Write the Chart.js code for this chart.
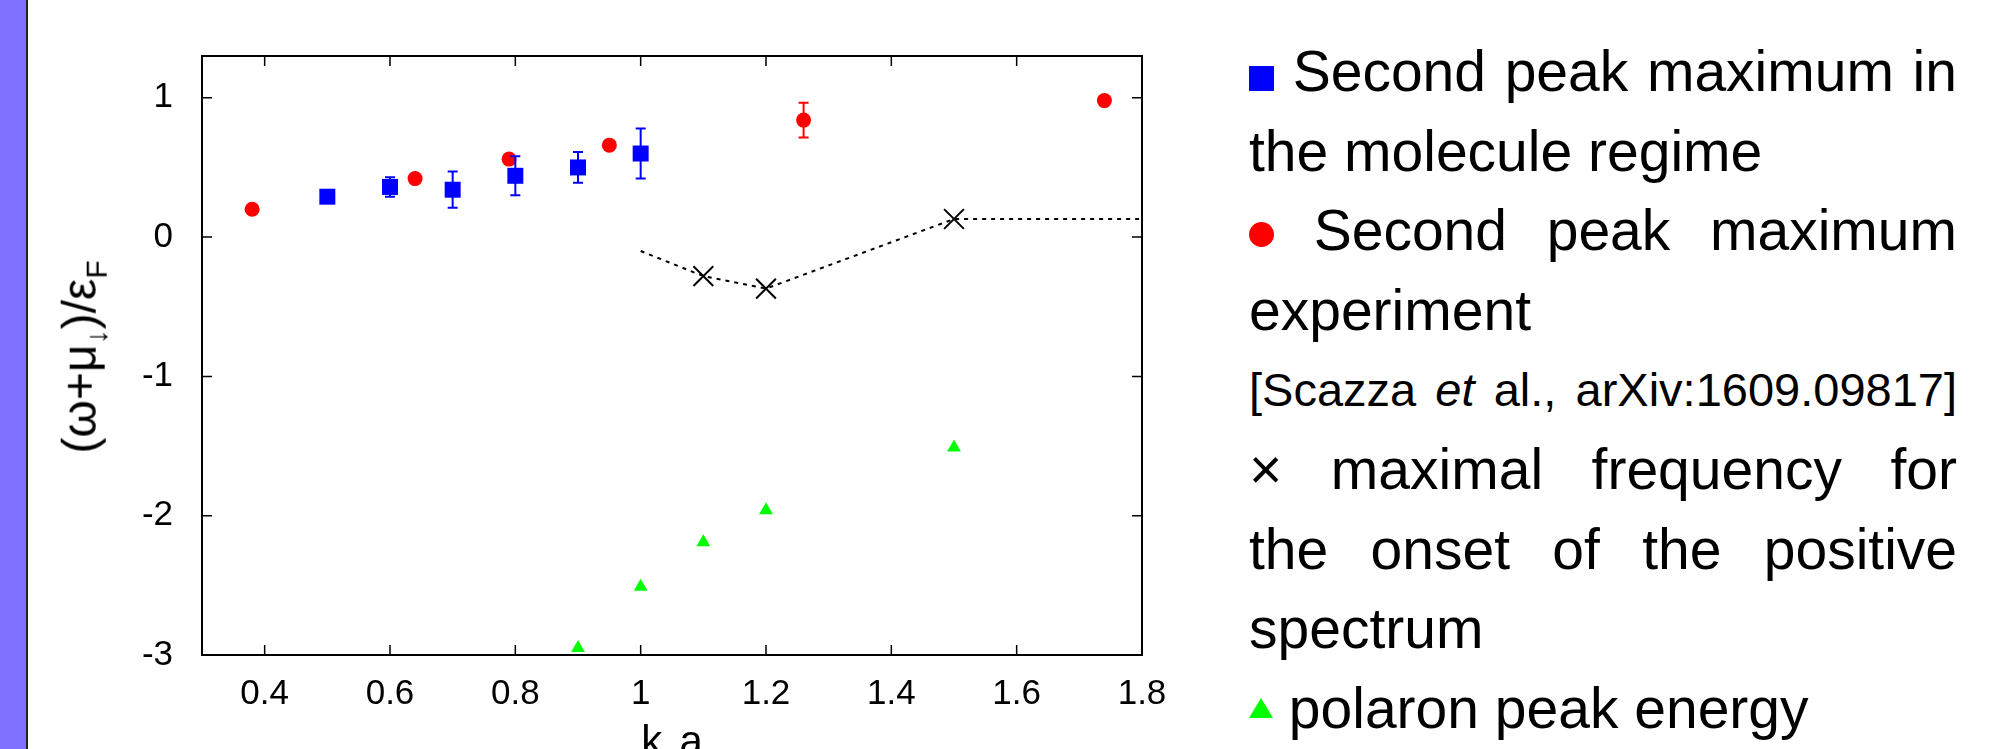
<!DOCTYPE html>
<html lang="en">
<head>
<meta charset="UTF-8">
<title>Second peak maximum vs kFa</title>
<script src="https://cdn.jsdelivr.net/npm/chart.js"></script>
<style>
    html, body {
        margin: 0;
        padding: 0;
        width: 2005px;
        height: 749px;
        overflow: hidden;
        background: #fff;
        font-family: "Liberation Sans", Arial, sans-serif;
    }
    .band {
        position: absolute;
        left: 0; top: 0;
        width: 26px; height: 749px;
        background: #8070ff;
        border-right: 2px solid #222;
    }
    #wrap {
        position: absolute;
        left: 28px; top: 0;
        width: 1172px; height: 800px;
    }
    .ytitle {
        position: absolute;
        left: 88px; top: 357px;
        transform: translate(-50%, -50%) rotate(-90deg);
        font-size: 48px;
        line-height: 48px;
        white-space: nowrap;
    }
    .ytitle sub { font-size: 30px; }
    .xtitle {
        position: absolute;
        left: 672px; top: 720px;
        transform: translateX(-50%);
        font-size: 42px;
        line-height: 42px;
        white-space: nowrap;
    }
    .xtitle span { font-size: 28px; position: relative; top: 14px; }

    /* text block on the right */
    #legend {
        position: absolute;
        left: 1249px; top: 32px;
        width: 708px;
        font-size: 57px;
    }
    .ln {
        height: 79.6px;
        line-height: 79.6px;
        text-align: left;
    }
    .j { text-align: justify; text-align-last: justify; }
    .small { font-size: 47px; }
    .sq { display: inline-block; width: 25px; height: 25px; background: #0000ff; }
    .dot { display: inline-block; width: 25px; height: 25px; border-radius: 50%; background: #ff0000; vertical-align: 3px; }
    .tri {
        display: inline-block; width: 0; height: 0;
        border-left: 12.5px solid transparent;
        border-right: 12.5px solid transparent;
        border-bottom: 20px solid #00ff00;
        vertical-align: 10px;
    }
</style>
</head>
<body>
<div class="band"></div>

<div id="wrap">
    <canvas id="chart" width="1172" height="800"></canvas>
</div>

<div class="ytitle">(ω+μ<sub>↓</sub>)/ε<sub>F</sub></div>
<div class="xtitle">k<span>F</span>a</div>

<div id="legend">
    <div class="ln j"><span class="sq"></span> Second peak maximum in</div>
    <div class="ln">the molecule regime</div>
    <div class="ln j"><span class="dot"></span> Second peak maximum</div>
    <div class="ln">experiment</div>
    <div class="ln j small">[Scazza <i>et</i> al., arXiv:1609.09817]</div>
    <div class="ln j"><span>×</span> maximal frequency for</div>
    <div class="ln j">the onset of the positive</div>
    <div class="ln">spectrum</div>
    <div class="ln"><span class="tri"></span> polaron peak energy</div>
</div>

<script>
    // ejes
    const xTicks = [0.4, 0.6, 0.8, 1.0, 1.2, 1.4, 1.6, 1.8];
    const xTickLabels = ['0.4', '0.6', '0.8', '1', '1.2', '1.4', '1.6', '1.8'];
    const yTicks = [-3, -2, -1, 0, 1];
    const yTickLabels = ['-3', '-2', '-1', '0', '1'];

    // second peak maximum, molecule regime (blue squares)
    const molX = [0.5, 0.6, 0.7, 0.8, 0.9, 1.0];
    const molY = [0.29, 0.36, 0.34, 0.44, 0.50, 0.60];
    const molErr = [0.02, 0.07, 0.13, 0.14, 0.11, 0.18];

    // second peak maximum, experiment (red circles)
    const expX = [0.38, 0.64, 0.79, 0.95, 1.26, 1.74];
    const expY = [0.20, 0.42, 0.56, 0.66, 0.84, 0.98];
    const expErr = [0, 0, 0, 0, 0.125, 0];

    // maximal frequency for the onset of the positive spectrum
    const onsetX = [1.1, 1.2, 1.5];
    const onsetY = [-0.28, -0.37, 0.13];
    const curveX = [1.0, 1.1, 1.2, 1.5, 1.8];
    const curveY = [-0.10, -0.28, -0.37, 0.13, 0.13];

    // polaron peak energy
    const polX = [0.9, 1.0, 1.1, 1.2, 1.5];
    const polY = [-2.95, -2.51, -2.19, -1.96, -1.51];

    const toPoints = (xs, ys) => xs.map((x, i) => ({ x: x, y: ys[i] }));
    const FONT = '"Liberation Sans", Arial, sans-serif';

    // barras de error verticales con tope
    const errorBars = {
        id: 'errorBars',
        afterDatasetsDraw(chart) {
            const ctx = chart.ctx;
            const xs = chart.scales.x, ys = chart.scales.y;
            ctx.save();
            ctx.lineWidth = 2;
            chart.data.datasets.forEach(ds => {
                if (!ds.errors) return;
                ctx.strokeStyle = ds.backgroundColor;
                ds.data.forEach((p, i) => {
                    const e = ds.errors[i];
                    if (!e) return;
                    const px = xs.getPixelForValue(p.x);
                    const top = ys.getPixelForValue(p.y + e);
                    const bot = ys.getPixelForValue(p.y - e);
                    ctx.beginPath();
                    ctx.moveTo(px, top); ctx.lineTo(px, bot);
                    ctx.moveTo(px - 5, top); ctx.lineTo(px + 5, top);
                    ctx.moveTo(px - 5, bot); ctx.lineTo(px + 5, bot);
                    ctx.stroke();
                });
            });
            ctx.restore();
        }
    };

    // marco tipo gnuplot con ticks hacia dentro en los cuatro lados
    const frame = {
        id: 'frame',
        afterDraw(chart) {
            const ctx = chart.ctx;
            const a = chart.chartArea;
            const xs = chart.scales.x, ys = chart.scales.y;
            ctx.save();
            ctx.strokeStyle = '#000';
            ctx.lineWidth = 1.5;
            ctx.beginPath();
            xs.ticks.forEach(t => {
                const px = xs.getPixelForValue(t.value);
                ctx.moveTo(px, a.bottom); ctx.lineTo(px, a.bottom - 10);
                ctx.moveTo(px, a.top); ctx.lineTo(px, a.top + 10);
            });
            ys.ticks.forEach(t => {
                const py = ys.getPixelForValue(t.value);
                ctx.moveTo(a.left, py); ctx.lineTo(a.left + 10, py);
                ctx.moveTo(a.right, py); ctx.lineTo(a.right - 10, py);
            });
            ctx.stroke();
            ctx.lineWidth = 2;
            ctx.strokeRect(a.left, a.top, a.right - a.left, a.bottom - a.top);
            ctx.restore();
        }
    };

    new Chart(document.getElementById('chart').getContext('2d'), {
        type: 'scatter',
        data: {
            datasets: [
                {
                    label: 'Second peak maximum in the molecule regime',
                    data: toPoints(molX, molY),
                    errors: molErr,
                    pointStyle: 'rect',
                    pointRadius: 11.3,
                    backgroundColor: '#0000ff',
                    borderColor: '#0000ff',
                    borderWidth: 0
                },
                {
                    label: 'Second peak maximum experiment',
                    data: toPoints(expX, expY),
                    errors: expErr,
                    pointStyle: 'circle',
                    pointRadius: 7.5,
                    backgroundColor: '#ff0000',
                    borderColor: '#ff0000',
                    borderWidth: 0
                },
                {
                    label: 'maximal frequency for the onset of the positive spectrum',
                    data: toPoints(onsetX, onsetY),
                    pointStyle: 'crossRot',
                    pointRadius: 14,
                    borderColor: '#000',
                    backgroundColor: '#000',
                    borderWidth: 2
                },
                {
                    label: 'onset curve',
                    data: toPoints(curveX, curveY),
                    showLine: true,
                    pointRadius: 0,
                    borderColor: '#000',
                    borderWidth: 2,
                    borderDash: [4, 5],
                    tension: 0
                },
                {
                    label: 'polaron peak energy',
                    data: toPoints(polX, polY),
                    pointStyle: 'triangle',
                    pointRadius: 8,
                    backgroundColor: '#00ff00',
                    borderColor: '#00ff00',
                    borderWidth: 0
                }
            ]
        },
        options: {
            responsive: false,
            animation: false,
            devicePixelRatio: 1,
            layout: { padding: { top: 56, right: 58, left: 0, bottom: 0 } },
            plugins: {
                legend: { display: false },
                tooltip: { enabled: false }
            },
            scales: {
                x: {
                    type: 'linear',
                    min: 0.3,
                    max: 1.8,
                    afterBuildTicks: s => { s.ticks = xTicks.map(v => ({ value: v })); },
                    afterFit: s => { s.height = 145; },
                    grid: { display: false, drawTicks: false },
                    border: { display: false },
                    ticks: {
                        autoSkip: false,
                        maxRotation: 0,
                        padding: 18,
                        color: '#000',
                        font: { family: FONT, size: 35 },
                        callback: (v, i) => xTickLabels[i]
                    }
                },
                y: {
                    type: 'linear',
                    min: -3,
                    max: 1.3,
                    afterBuildTicks: s => { s.ticks = yTicks.map(v => ({ value: v })); },
                    afterFit: s => { s.width = 174; },
                    grid: { display: false, drawTicks: false },
                    border: { display: false },
                    ticks: {
                        autoSkip: false,
                        padding: 29,
                        color: '#000',
                        font: { family: FONT, size: 35 },
                        callback: (v, i) => yTickLabels[i]
                    }
                }
            }
        },
        plugins: [errorBars, frame]
    });
</script>
</body>
</html>
